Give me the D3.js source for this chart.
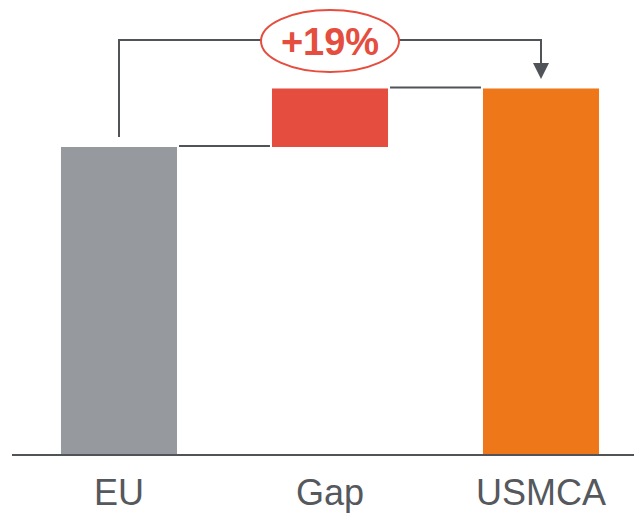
<!DOCTYPE html>
<html>
<head>
<meta charset="utf-8">
<script src="https://cdn.jsdelivr.net/npm/d3@7"></script>
<style>
  html, body { margin: 0; padding: 0; background: #fff; }
  svg { display: block; }
</style>
</head>
<body>
<svg id="chart" width="634" height="513"></svg>
<script>
// Waterfall: EU level, the gap, and the USMCA level
const categories = ["EU", "Gap", "USMCA"];
const startValues = [0, 100, 0];
const endValues = [100, 119, 119];
const changeLabel = "+19%";

const colors = { EU: "#96999d", Gap: "#e54d3e", USMCA: "#ee771a" };
const ink = "#505358";

const svg = d3.select("#chart");
const width = 634, baseY = 455;

const x = d3.scaleBand()
  .domain(categories)
  .range([13.5, 646.5])
  .paddingInner(0.45)
  .paddingOuter(0.225);

const y = d3.scaleLinear().domain([0, 100]).range([baseY, 147]);

const bars = categories.map((c, i) => ({ cat: c, v0: startValues[i], v1: endValues[i] }));

// bars
svg.append("g").selectAll("rect")
  .data(bars)
  .join("rect")
  .attr("x", d => x(d.cat))
  .attr("width", x.bandwidth())
  .attr("y", d => y(d.v1))
  .attr("height", d => y(d.v0) - y(d.v1))
  .attr("fill", d => colors[d.cat]);

// connectors between consecutive bars
const conn = svg.append("g").attr("stroke", ink).attr("stroke-width", 2);
for (let i = 0; i < bars.length - 1; i++) {
  const level = bars[i].v1;
  conn.append("line")
    .attr("x1", x(bars[i].cat) + x.bandwidth() + 2)
    .attr("x2", x(bars[i + 1].cat) - 2)
    .attr("y1", y(level) - 1)
    .attr("y2", y(level) - 1);
}

// baseline axis
const axis = d3.axisBottom(x).tickSize(0).tickPadding(24);
const ax = svg.append("g").attr("transform", `translate(0,${baseY})`).call(axis);
ax.select(".domain").remove();
ax.append("line")
  .attr("x1", 12).attr("x2", width)
  .attr("stroke", ink).attr("stroke-width", 2.2);
ax.selectAll(".tick text")
  .attr("fill", "#55585c")
  .attr("font-family", "'Liberation Sans', Arial, sans-serif")
  .attr("font-size", 36);

// bracket annotation from EU to USMCA
const cx = x("Gap") + x.bandwidth() / 2, cy = 41;
const rx = 69, ry = 31;
const xL = x("EU") + x.bandwidth() / 2;
const xR = x("USMCA") + x.bandwidth() / 2;
const topY = 40;

const br = svg.append("g").attr("fill", "none").attr("stroke", ink).attr("stroke-width", 2);
br.append("path")
  .attr("d", `M${xL},${y(endValues[0]) - 10}V${topY}H${cx - rx}`);
br.append("path")
  .attr("d", `M${cx + rx},${topY}H${xR}V${66}`);

svg.append("path")
  .attr("d", `M${xR - 8},63L${xR + 8},63L${xR},79Z`)
  .attr("fill", ink);

svg.append("ellipse")
  .attr("cx", cx).attr("cy", cy)
  .attr("rx", rx).attr("ry", ry)
  .attr("fill", "#fff")
  .attr("stroke", "#e54d3e")
  .attr("stroke-width", 2);

svg.append("text")
  .attr("x", cx).attr("y", 55)
  .attr("text-anchor", "middle")
  .attr("font-family", "'Liberation Sans', Arial, sans-serif")
  .attr("font-weight", "bold")
  .attr("font-size", 38)
  .attr("fill", "#e54d3e")
  .text(changeLabel);
</script>
</body>
</html>
